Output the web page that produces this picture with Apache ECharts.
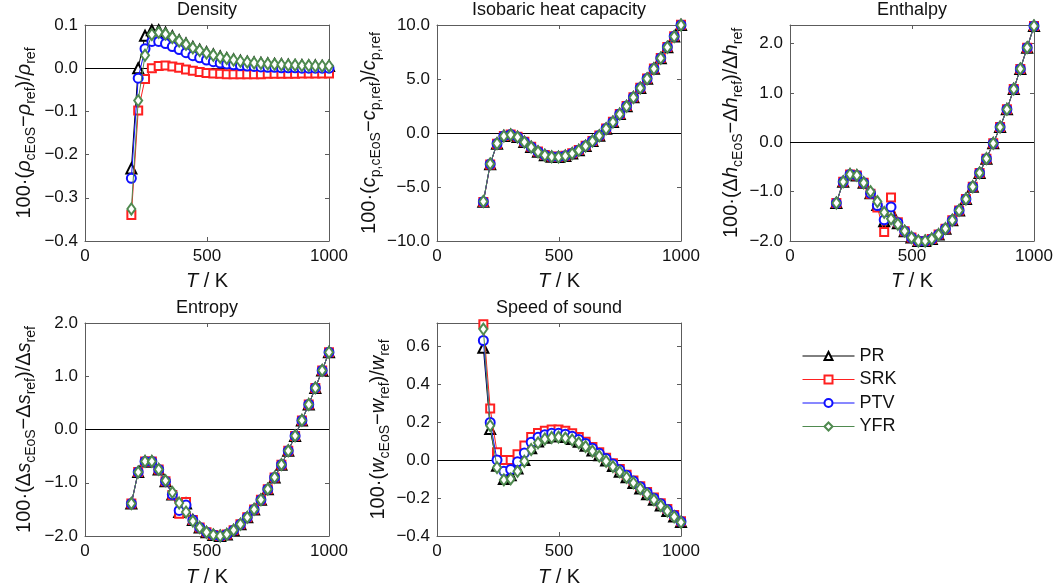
<!DOCTYPE html>
<html>
<head>
<meta charset="utf-8">
<script src="https://cdn.jsdelivr.net/npm/echarts@6/dist/echarts.min.js"></script>
<style>
html,body{margin:0;padding:0;background:#fff;}
#c{width:1056px;height:588px;}
</style>
</head>
<body>
<div id="c"></div>
<script>
// ---------------- DATA ----------------
const T = [190,218,246,274,302,330,358,386,414,442,470,498,526,554,581,609,637,665,693,721,749,777,805,833,861,889,917,944,972,1000];
const seriesNames = ['PR','SRK','PTV','YFR'];
const xTicks = [0, 500, 1000];

const densPR  = [-0.232,0.000,0.075,0.088,0.088,0.082,0.074,0.065,0.057,0.049,0.043,0.037,0.032,0.027,0.023,0.020,0.017,0.015,0.013,0.012,0.011,0.010,0.009,0.008,0.007,0.007,0.006,0.006,0.005,0.005];
const densSRK = [-0.340,-0.098,-0.025,0.000,0.005,0.006,0.004,0.001,-0.003,-0.006,-0.009,-0.011,-0.012,-0.013,-0.014,-0.014,-0.014,-0.014,-0.014,-0.014,-0.013,-0.013,-0.013,-0.013,-0.013,-0.012,-0.012,-0.012,-0.012,-0.012];
const densPTV = [-0.255,-0.023,0.045,0.062,0.062,0.057,0.050,0.043,0.036,0.029,0.024,0.019,0.015,0.012,0.010,0.008,0.006,0.005,0.004,0.003,0.002,0.002,0.001,0.001,0.001,0.000,0.000,0.000,0.000,0.000];
const densYFR = [-0.326,-0.075,0.030,0.078,0.083,0.079,0.071,0.063,0.055,0.047,0.041,0.035,0.030,0.025,0.022,0.019,0.016,0.014,0.012,0.011,0.010,0.009,0.008,0.007,0.007,0.006,0.006,0.005,0.005,0.005];

const cpPR  = [-6.37,-2.89,-0.99,-0.28,-0.16,-0.37,-0.84,-1.30,-1.74,-2.05,-2.20,-2.22,-2.12,-1.90,-1.60,-1.20,-0.75,-0.25,0.40,1.02,1.75,2.48,3.30,4.17,5.03,5.96,6.93,7.95,8.94,10.00];
const cpSRK = [-6.40,-2.92,-1.00,-0.27,-0.14,-0.35,-0.82,-1.28,-1.72,-2.03,-2.18,-2.20,-2.10,-1.88,-1.58,-1.18,-0.73,-0.23,0.42,1.04,1.77,2.50,3.32,4.19,5.05,5.98,6.95,7.97,8.96,10.02];
const cpPTV = [-6.36,-2.88,-0.98,-0.27,-0.15,-0.36,-0.83,-1.29,-1.73,-2.04,-2.19,-2.21,-2.11,-1.89,-1.59,-1.19,-0.74,-0.24,0.41,1.03,1.76,2.49,3.31,4.18,5.04,5.97,6.94,7.96,8.95,10.01];
const cpYFR = [-6.34,-2.86,-0.97,-0.29,-0.17,-0.38,-0.85,-1.31,-1.75,-2.06,-2.21,-2.23,-2.13,-1.91,-1.61,-1.21,-0.76,-0.26,0.39,1.01,1.74,2.47,3.29,4.16,5.02,5.95,6.92,7.94,8.93,9.99];

const hPR  = [-1.23,-0.80,-0.65,-0.67,-0.82,-1.03,-1.27,-1.60,-1.38,-1.64,-1.80,-1.93,-2.00,-2.00,-1.96,-1.87,-1.75,-1.58,-1.38,-1.15,-0.90,-0.62,-0.33,-0.02,0.31,0.67,1.08,1.49,1.92,2.36];
const hSRK = [-1.23,-0.80,-0.65,-0.67,-0.82,-1.04,-1.32,-1.82,-1.12,-1.62,-1.80,-1.93,-2.00,-2.00,-1.96,-1.87,-1.75,-1.58,-1.38,-1.15,-0.90,-0.62,-0.33,-0.02,0.31,0.67,1.08,1.49,1.92,2.36];
const hPTV = [-1.23,-0.80,-0.65,-0.67,-0.82,-1.03,-1.28,-1.57,-1.31,-1.63,-1.80,-1.93,-2.00,-2.00,-1.96,-1.87,-1.75,-1.58,-1.38,-1.15,-0.90,-0.62,-0.33,-0.02,0.31,0.67,1.08,1.49,1.92,2.36];
const hYFR = [-1.23,-0.80,-0.65,-0.67,-0.82,-1.00,-1.20,-1.42,-1.55,-1.66,-1.80,-1.93,-2.00,-2.00,-1.96,-1.87,-1.75,-1.58,-1.38,-1.15,-0.90,-0.62,-0.33,-0.02,0.31,0.67,1.08,1.49,1.92,2.36];

const sPR  = [-1.39,-0.80,-0.60,-0.60,-0.75,-0.97,-1.22,-1.55,-1.39,-1.70,-1.84,-1.93,-1.98,-2.00,-1.97,-1.89,-1.78,-1.65,-1.50,-1.32,-1.12,-0.90,-0.66,-0.40,-0.12,0.17,0.47,0.78,1.11,1.45];
const sSRK = [-1.39,-0.80,-0.60,-0.60,-0.75,-0.97,-1.23,-1.58,-1.36,-1.70,-1.84,-1.93,-1.98,-2.00,-1.97,-1.89,-1.78,-1.65,-1.50,-1.32,-1.12,-0.90,-0.66,-0.40,-0.12,0.17,0.47,0.78,1.11,1.45];
const sPTV = [-1.39,-0.80,-0.60,-0.60,-0.75,-0.97,-1.22,-1.52,-1.42,-1.70,-1.84,-1.93,-1.98,-2.00,-1.97,-1.89,-1.78,-1.65,-1.50,-1.32,-1.12,-0.90,-0.66,-0.40,-0.12,0.17,0.47,0.78,1.11,1.45];
const sYFR = [-1.39,-0.80,-0.60,-0.60,-0.75,-0.96,-1.18,-1.38,-1.55,-1.72,-1.84,-1.93,-1.98,-2.00,-1.97,-1.89,-1.78,-1.65,-1.50,-1.32,-1.12,-0.90,-0.66,-0.40,-0.12,0.17,0.47,0.78,1.11,1.45];

const wPR  = [0.590,0.162,-0.030,-0.100,-0.080,-0.045,0.000,0.062,0.097,0.116,0.124,0.125,0.120,0.110,0.095,0.075,0.050,0.024,-0.003,-0.032,-0.062,-0.091,-0.121,-0.150,-0.180,-0.209,-0.239,-0.268,-0.298,-0.327];
const wSRK = [0.714,0.270,0.040,0.000,0.000,0.030,0.076,0.120,0.141,0.153,0.160,0.160,0.153,0.140,0.120,0.095,0.068,0.040,0.011,-0.018,-0.048,-0.078,-0.108,-0.138,-0.168,-0.198,-0.228,-0.258,-0.290,-0.322];
const wPTV = [0.628,0.197,0.000,-0.060,-0.050,-0.010,0.036,0.093,0.119,0.133,0.140,0.140,0.135,0.124,0.108,0.087,0.062,0.035,0.007,-0.022,-0.052,-0.081,-0.111,-0.141,-0.171,-0.201,-0.231,-0.261,-0.292,-0.324];
const wYFR = [0.688,0.180,-0.040,-0.105,-0.100,-0.060,-0.007,0.055,0.090,0.110,0.118,0.120,0.115,0.105,0.090,0.070,0.046,0.020,-0.007,-0.035,-0.063,-0.092,-0.121,-0.151,-0.180,-0.210,-0.240,-0.269,-0.299,-0.328];

const titles = ['Density','Isobaric heat capacity','Enthalpy','Entropy','Speed of sound'];
const yTicksDens = [-0.4,-0.3,-0.2,-0.1,0.0,0.1];
const yTicksCp = [-10,-5,0,5,10];
const yTicksH = [-2,-1,0,1,2];
const yTicksS = [-2,-1,0,1,2];
const yTicksW = [-0.4,-0.2,0,0.2,0.4,0.6];

// ---------------- STYLE / LAYOUT ----------------
const FONT = '"Liberation Sans", Arial, Helvetica, sans-serif';
const TXT = '#111';
const AX = '#5c5c5c';
const colors = ['#000000','#ff2020','#1010ff','#4f8a4f'];
const symbols = ['emptyTriangle','emptyRect','emptyCircle','emptyDiamond'];
const symSizes = [10, 8, 9, [8,11]];

const panels = [
  {grid:{left:85, top:25, width:244, height:216}, y:[yTicksDens[0], yTicksDens[yTicksDens.length-1]], iv:0.1, data:[densPR,densSRK,densPTV,densYFR], gap:47, xgap:26,
   name:'{n|100·(}{i|ρ}{s|cEoS}{n|−}{i|ρ}{s|ref}{n|)/}{i|ρ}{s|ref}'},
  {grid:{left:437, top:25, width:244, height:216}, y:[yTicksCp[0], yTicksCp[yTicksCp.length-1]], iv:5, data:[cpPR,cpSRK,cpPTV,cpYFR], gap:43, xgap:26,
   name:'{n|100·(}{i|c}{s|p,cEoS}{n|−}{i|c}{s|p,ref}{n|)/}{i|c}{s|p,ref}'},
  {grid:{left:790, top:25, width:244, height:216}, y:[yTicksH[0], 2.38], iv:1, data:[hPR,hSRK,hPTV,hYFR], gap:42, xgap:26,
   name:'{n|100·(Δ}{i|h}{s|cEoS}{n|−Δ}{i|h}{s|ref}{n|)/Δ}{i|h}{s|ref}'},
  {grid:{left:85, top:323, width:244, height:214}, y:[yTicksS[0], yTicksS[yTicksS.length-1]], iv:1, data:[sPR,sSRK,sPTV,sYFR], gap:47, xgap:27,
   name:'{n|100·(Δ}{i|s}{s|cEoS}{n|−Δ}{i|s}{s|ref}{n|)/Δ}{i|s}{s|ref}'},
  {grid:{left:437, top:323, width:244, height:214}, y:[yTicksW[0], 0.72], iv:0.2, data:[wPR,wSRK,wPTV,wYFR], gap:43, xgap:27,
   name:'{n|100·(}{i|w}{s|cEoS}{n|−}{i|w}{s|ref}{n|)/}{i|w}{s|ref}'}
];

const rich = {
  n:{fontFamily:FONT, fontSize:20, color:TXT, lineHeight:28, verticalAlign:'middle'},
  i:{fontFamily:FONT, fontSize:20, fontStyle:'italic', color:TXT, lineHeight:28, verticalAlign:'middle'},
  s:{fontFamily:FONT, fontSize:14, color:TXT, lineHeight:14, verticalAlign:'bottom'}
};

const fmt = v => {
  if (Math.abs(v) < 1e-9) return '0.0';
  return v.toFixed(1).replace('-', '\u2212');
};

const grid = [], xAxis = [], yAxis = [], series = [], title = [];
panels.forEach((p, g) => {
  grid.push(Object.assign({containLabel:false}, p.grid));
  title.push({
    text: titles[g], left: p.grid.left + p.grid.width/2, top: p.grid.top - 24, textAlign:'center', padding:0,
    textStyle:{fontFamily:FONT, fontSize:18, fontWeight:'normal', color:TXT}
  });
  const common = {gridIndex:g, splitLine:{show:false}, axisLine:{show:true, onZero:false, lineStyle:{color:AX, width:1}},
                  axisTick:{show:true, inside:true, length:4, lineStyle:{color:AX}}};
  xAxis.push(Object.assign({}, common, {
    type:'value', position:'bottom', min:xTicks[0], max:xTicks[xTicks.length-1], interval:xTicks[1]-xTicks[0],
    axisLabel:{fontFamily:FONT, fontSize:17, color:TXT, margin:7, formatter: v => String(v)},
    name:'{i|T}{n| / K}', nameLocation:'middle', nameGap:p.xgap, nameTextStyle:{rich:rich}
  }));
  xAxis.push(Object.assign({}, common, {
    type:'value', position:'top', min:xTicks[0], max:xTicks[xTicks.length-1], interval:xTicks[1]-xTicks[0],
    axisLabel:{show:false}
  }));
  yAxis.push(Object.assign({}, common, {
    type:'value', position:'left', min:p.y[0], max:p.y[1], interval:p.iv,
    axisLabel:{fontFamily:FONT, fontSize:17, color:TXT, margin:7, formatter:fmt,
               showMaxLabel: Math.abs(Math.round(p.y[1]/p.iv) - p.y[1]/p.iv) < 1e-6 },
    name:p.name, nameLocation:'middle', nameRotate:90, nameGap:p.gap, nameTextStyle:{rich:rich}
  }));
  yAxis.push(Object.assign({}, common, {
    type:'value', position:'right', min:p.y[0], max:p.y[1], interval:p.iv, axisLabel:{show:false}
  }));
  p.data.forEach((arr, k) => {
    const s = {
      name: seriesNames[k], type:'line', xAxisIndex:2*g, yAxisIndex:2*g,
      data: T.map((t, i) => [t, arr[i]]),
      symbol: symbols[k], symbolSize: symSizes[k], showAllSymbol:true, clip:false,
      lineStyle:{color:colors[k], width:1}, itemStyle:{color:colors[k], borderWidth:1},
      emphasis:{disabled:true}, animation:false, z: 3 + k
    };
    if (k === 0) {
      s.markLine = {silent:true, symbol:['none','none'], label:{show:false},
        lineStyle:{color:'#000', width:1, type:'solid'}, data:[{yAxis:0}], animation:false, z:1};
    }
    series.push(s);
  });
});

const chart = echarts.init(document.getElementById('c'), null, {renderer:'canvas'});
chart.setOption({
  animation:false,
  backgroundColor:'#fff',
  title: title,
  grid: grid, xAxis: xAxis, yAxis: yAxis, series: series,
  legend: {
    data: seriesNames, orient:'vertical', left:797, top:342, itemWidth:52, itemHeight:10, itemGap:5.5,
    lineStyle:{width:1}, itemStyle:{borderWidth:1},
    textStyle:{fontFamily:FONT, fontSize:18, color:TXT}, selectedMode:false
  }
});
</script>
</body>
</html>
